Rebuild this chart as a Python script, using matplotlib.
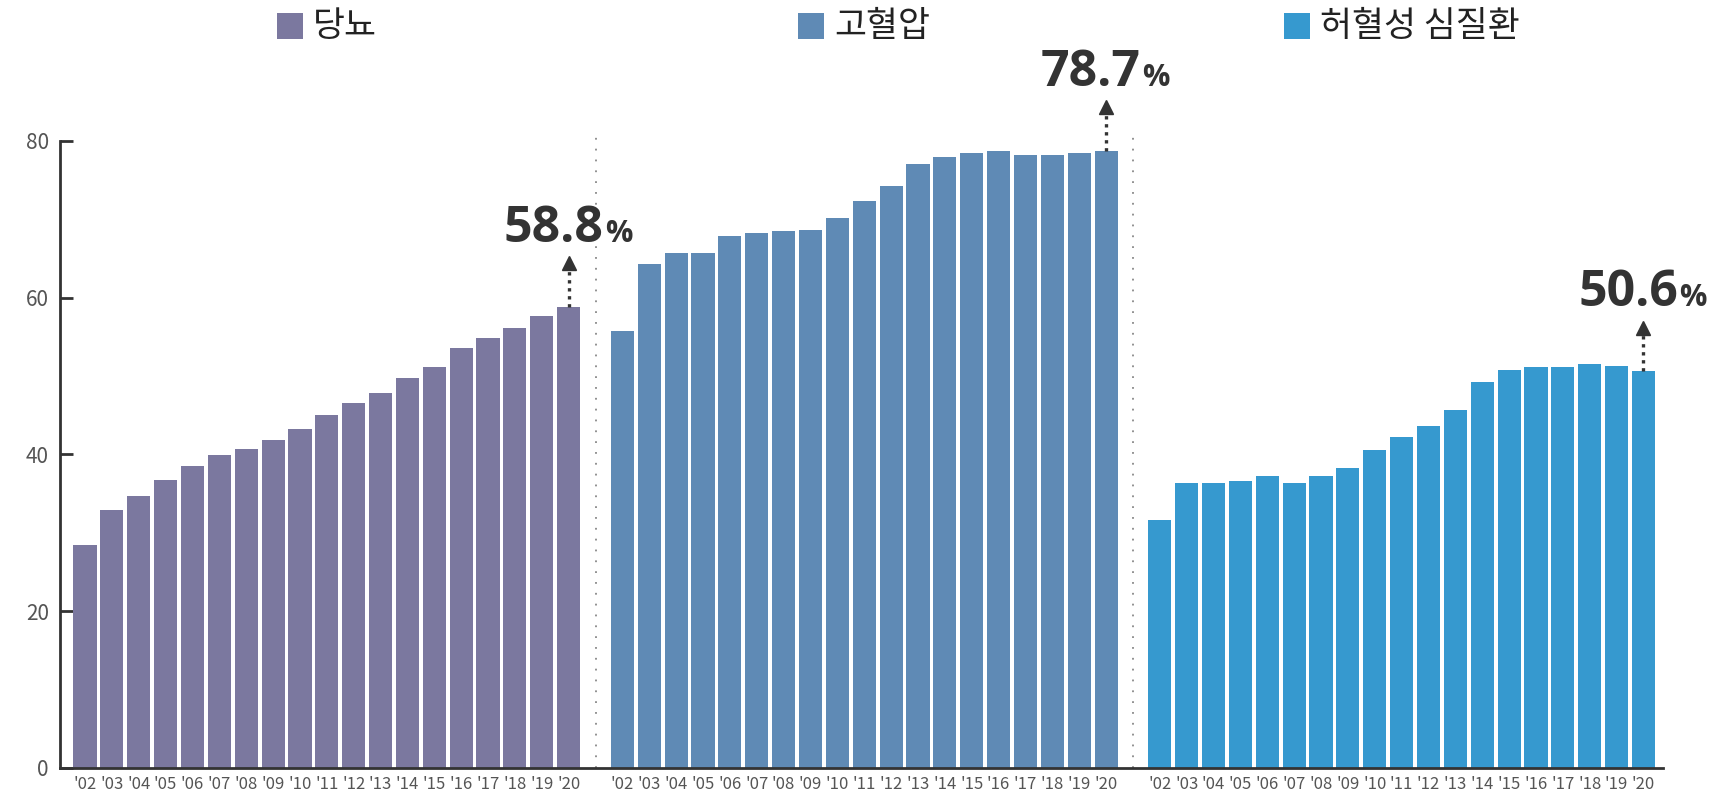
import numpy as np
import matplotlib
matplotlib.use('Agg')
import matplotlib.pyplot as plt
from matplotlib.patches import Rectangle

plt.rcParams['font.family'] = ['Noto Sans CJK KR', 'DejaVu Sans']

years = ["'02", "'03", "'04", "'05", "'06", "'07", "'08", "'09", "'10", "'11",
         "'12", "'13", "'14", "'15", "'16", "'17", "'18", "'19", "'20"]
diseases = ['당뇨', '고혈압', '허혈성 심질환']
diabetes = [28.4, 32.9, 34.7, 36.8, 38.5, 39.9, 40.7, 41.9, 43.2, 45.0,
            46.6, 47.9, 49.8, 51.1, 53.6, 54.8, 56.1, 57.7, 58.8]
hypertension = [55.8, 64.3, 65.7, 65.7, 67.9, 68.3, 68.5, 68.6, 70.2, 72.3,
                74.3, 77.1, 78.0, 78.5, 78.7, 78.2, 78.2, 78.5, 78.7]
ischemic = [31.6, 36.3, 36.3, 36.6, 37.3, 36.4, 37.3, 38.3, 40.6, 42.2,
            43.6, 45.7, 49.2, 50.8, 51.2, 51.2, 51.5, 51.3, 50.6]
colors = ['#7b789f', '#5f8ab5', '#3699cf']

series = [diabetes, hypertension, ischemic]

fig = plt.figure(figsize=(17.26, 7.96), dpi=100)
ax = fig.add_axes([0.03476, 0.0352, 0.9288, 0.7877])
ax.set_xlim(-0.93, 58.73)
ax.set_ylim(0, 80)

n = len(years)
all_x = []
all_lab = []
groups = []
for i, vals in enumerate(series):
    x = np.arange(n) + i * (n + 1)
    groups.append(x)
    ax.bar(x, vals, width=0.86, color=colors[i], linewidth=0, zorder=2)
    all_x += list(x)
    all_lab += years

    # annotation on the last bar
    xl, vl = x[-1], vals[-1]
    ax.plot([xl, xl], [vl, vl + 5.4], ls=(0, (1, 1.4)), lw=2.4, color='#333333',
            zorder=3, clip_on=False)
    ax.plot(xl, vl + 5.6, marker='^', ms=10, color='#333333', zorder=3,
            clip_on=False)
    ax.annotate(f'{vl:.1f}', xy=(xl, vl + 8.3), xytext=(25, 0),
                textcoords='offset points', ha='right', va='baseline',
                fontsize=36, fontweight='bold', color='#333333',
                family=['Open Sans', 'DejaVu Sans'], annotation_clip=False)
    ax.annotate('%', xy=(xl, vl + 8.3), xytext=(26, 0),
                textcoords='offset points', ha='left', va='baseline',
                fontsize=22, fontweight='bold', color='#333333',
                family=['Open Sans', 'DejaVu Sans'], annotation_clip=False)

    # separator
    if i < len(series) - 1:
        ax.plot([x[-1] + 1, x[-1] + 1], [0, 80.5], ls=(0, (1, 5)), lw=1.3,
                color='#888888', zorder=1, clip_on=False)

ax.set_yticks([0, 20, 40, 60, 80])
ax.set_xticks(all_x)
ax.set_xticklabels(all_lab)
ax.tick_params(axis='y', direction='in', length=9, width=2, color='#333333',
               labelsize=15, labelcolor='#555555', pad=8)
ax.tick_params(axis='x', length=0, labelsize=12, labelcolor='#555555', pad=6)
for s in ['top', 'right']:
    ax.spines[s].set_visible(False)
for s in ['left', 'bottom']:
    ax.spines[s].set_linewidth(2)
    ax.spines[s].set_color('#333333')

# legend: square + label, centred over each group
fig.canvas.draw()
W, H = fig.bbox.width, fig.bbox.height
sq, gap = 26, 10
for i, x in enumerate(groups):
    cx = ax.transData.transform((x.mean(), 0))[0]
    t = fig.text(0, 0.967, diseases[i], fontsize=25, color='#222222',
                 ha='left', va='center')
    tw = t.get_window_extent(renderer=fig.canvas.get_renderer()).width
    left = cx - (sq + gap + tw) / 2
    t.set_x((left + sq + gap) / W)
    fig.add_artist(Rectangle((left / W, (H - 39) / H), sq / W, sq / H,
                             transform=fig.transFigure, color=colors[i],
                             linewidth=0))

fig.savefig('out.png', dpi=100)
